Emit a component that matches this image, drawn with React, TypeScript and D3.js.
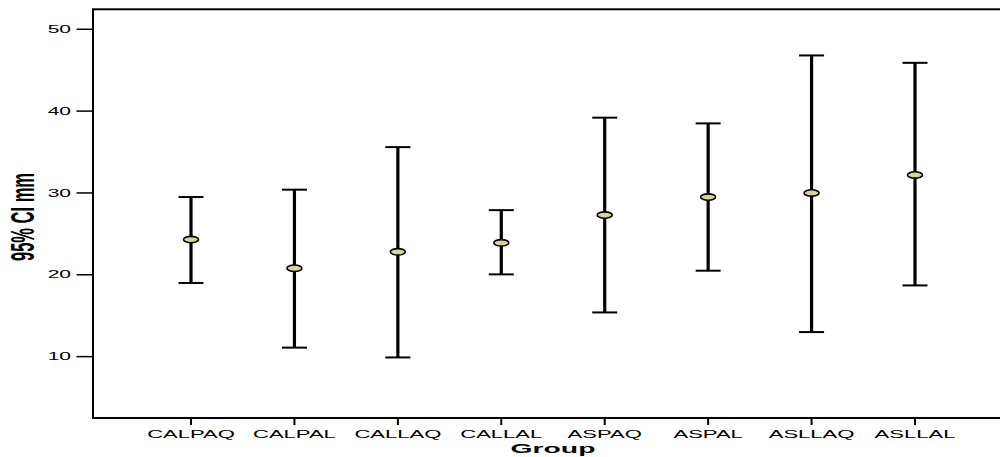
import React from "react";
import * as d3 from "d3";

const groups = ["CALPAQ", "CALPAL", "CALLAQ", "CALLAL", "ASPAQ", "ASPAL", "ASLLAQ", "ASLLAL"];
const means = [24.3, 20.8, 22.8, 23.9, 27.3, 29.5, 30.0, 32.2];
const upper = [29.5, 30.4, 35.6, 27.9, 39.2, 38.5, 46.8, 45.9];
const lower = [19.0, 11.1, 9.9, 20.05, 15.4, 20.5, 13.0, 18.7];
const yTicks = [10, 20, 30, 40, 50];

const W = 1000;
const H = 457;
const SX = 2.1; // the original was stretched horizontally
const FONT = "'Liberation Sans', Arial, sans-serif";

export default function App() {
  const left = 93;
  const top = 9.3;
  const bottom = 418;

  const x = d3.scalePoint<string>().domain(groups).range([191, 915]);
  const y = d3.scaleLinear().domain([2.5, 52.44]).range([bottom, top]);

  return (
    <svg
      width={W}
      height={H}
      style={{ position: "absolute", left: 0, top: 0, background: "#fff" }}
    >
      {/* frame */}
      <rect
        x={left}
        y={top}
        width={W}
        height={bottom - top}
        fill="none"
        stroke="#000"
        strokeWidth={2}
      />

      {/* y axis */}
      {yTicks.map((t) => (
        <g key={t}>
          <line x1={76.5} x2={left} y1={y(t)} y2={y(t)} stroke="#000" strokeWidth={1.5} />
          <text
            transform={`translate(71,${y(t) + 3.6}) scale(${SX},1)`}
            textAnchor="end"
            fontFamily={FONT}
            fontSize={10}
            fill="#000"
          >
            {t}
          </text>
        </g>
      ))}
      <text
        transform={`translate(34,217) scale(${SX * 0.95},1) rotate(-90)`}
        textAnchor="middle"
        fontFamily={FONT}
        fontSize={16.5}
        fontWeight="bold"
        fill="#000"
      >
        95% CI mm
      </text>

      {/* x axis */}
      {groups.map((g) => (
        <g key={g}>
          <line x1={x(g)} x2={x(g)} y1={bottom} y2={425} stroke="#000" strokeWidth={2} />
          <text
            transform={`translate(${x(g)},438.3) scale(${SX},1)`}
            textAnchor="middle"
            fontFamily={FONT}
            fontSize={10.5}
            fill="#000"
          >
            {g}
          </text>
        </g>
      ))}
      <text
        transform={`translate(553,452.5) scale(${SX},1)`}
        textAnchor="middle"
        fontFamily={FONT}
        fontSize={13.5}
        fontWeight="bold"
        fill="#000"
      >
        Group
      </text>

      {/* error bars */}
      {groups.map((g, i) => {
        const cx = x(g) ?? 0;
        return (
          <g key={g}>
            <line x1={cx} x2={cx} y1={y(upper[i])} y2={y(lower[i])} stroke="#000" strokeWidth={3.2} />
            <line x1={cx - 12.5} x2={cx + 12.5} y1={y(upper[i])} y2={y(upper[i])} stroke="#000" strokeWidth={2} />
            <line x1={cx - 12.5} x2={cx + 12.5} y1={y(lower[i])} y2={y(lower[i])} stroke="#000" strokeWidth={2} />
            <ellipse
              cx={cx}
              cy={y(means[i])}
              rx={7.5}
              ry={3.2}
              fill="#d9d49c"
              stroke="#000"
              strokeWidth={1.6}
            />
          </g>
        );
      })}
    </svg>
  );
}
